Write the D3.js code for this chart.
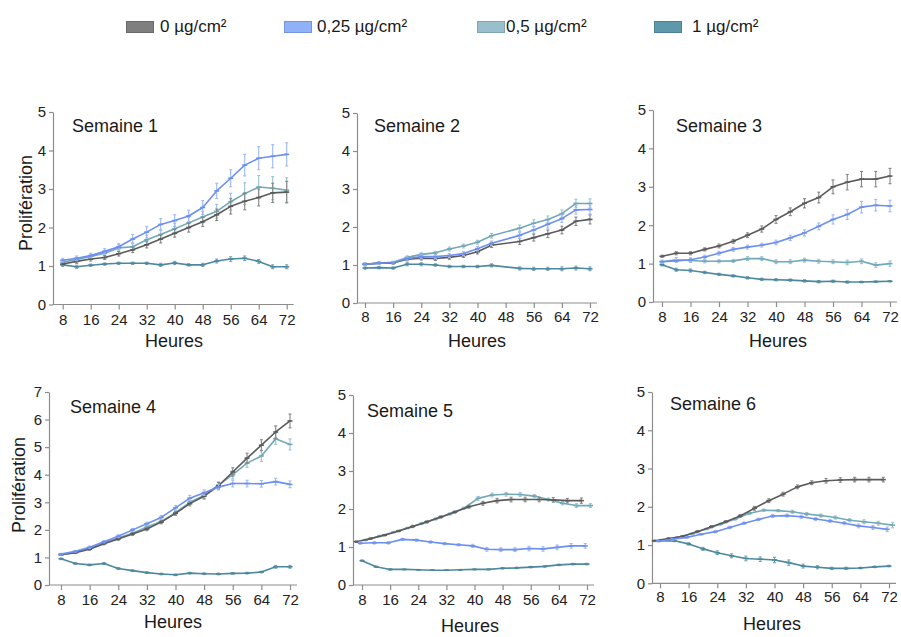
<!DOCTYPE html>
<html>
<head>
<meta charset="utf-8">
<script src="https://cdn.jsdelivr.net/npm/d3@7"></script>
<style>
  html, body { margin: 0; padding: 0; background: #fff; }
  svg { display: block; font-family: "Liberation Sans", Arial, Helvetica, sans-serif; }
</style>
</head>
<body>
<svg id="chart" width="901" height="637"></svg>
<script>
// ---------- DATA ----------
const seriesNames = ["0 µg/cm²", "0,25 µg/cm²", "0,5 µg/cm²", "1 µg/cm²"];
const weekTitles = ["Semaine 1", "Semaine 2", "Semaine 3", "Semaine 4", "Semaine 5", "Semaine 6"];
const xTicks = [8, 16, 24, 32, 40, 48, 56, 64, 72];
const yMaxes = [5, 5, 5, 7, 5, 5];

const hoursStd = [8, 12, 16, 20, 24, 28, 32, 36, 40, 44, 48, 52, 56, 60, 64, 68, 72];
const hoursW2 = [8, 12, 16, 20, 24, 28, 32, 36, 40, 44, 52, 56, 60, 64, 68, 72];
const hoursEarly = [6.4, 10.4, 14.4, 18.4, 22.4, 26.4, 30.4, 34.4, 38.4, 42.4, 46.4, 50.4, 54.4, 58.4, 62.4, 66.4, 70.4];
const hoursHalf = [7.5, 11.5, 15.5, 19.5, 23.5, 27.5, 31.5, 35.5, 39.5, 43.5, 47.5, 51.5, 55.5, 59.5, 63.5, 67.5, 71.5];
const hoursLate = [9, 13, 17, 21, 25, 29, 33, 37, 41, 45, 49, 53, 57, 61, 65, 69, 73];

// Week 1
const w1_0   = [1.05,1.12,1.18,1.22,1.32,1.42,1.55,1.70,1.85,2.00,2.15,2.33,2.55,2.68,2.78,2.90,2.92];
const w1_025 = [1.15,1.20,1.27,1.38,1.50,1.70,1.88,2.08,2.18,2.30,2.52,2.95,3.28,3.62,3.80,3.85,3.90];
const w1_05  = [1.10,1.17,1.25,1.33,1.47,1.50,1.68,1.82,1.97,2.12,2.27,2.42,2.67,2.88,3.05,3.02,2.97];
const w1_1   = [1.03,0.98,1.02,1.05,1.07,1.07,1.07,1.03,1.08,1.03,1.03,1.13,1.18,1.20,1.12,0.98,0.98];
const e1_0   = [0.04,0.05,0.05,0.05,0.06,0.07,0.08,0.10,0.10,0.12,0.12,0.15,0.20,0.22,0.22,0.25,0.28];
const e1_025 = [0.05,0.06,0.06,0.07,0.08,0.12,0.15,0.15,0.15,0.15,0.18,0.20,0.22,0.28,0.30,0.30,0.30];
const e1_05  = [0.04,0.05,0.05,0.06,0.08,0.10,0.12,0.12,0.14,0.14,0.15,0.18,0.22,0.28,0.30,0.30,0.32];
const e1_1   = [0.04,0.04,0.03,0.03,0.03,0.03,0.03,0.04,0.04,0.03,0.04,0.05,0.06,0.06,0.05,0.05,0.05];

// Week 2
const w2_0   = [1.02,1.05,1.05,1.15,1.18,1.17,1.20,1.25,1.35,1.52,1.62,1.72,1.82,1.92,2.15,2.20];
const w2_025 = [1.02,1.05,1.06,1.17,1.22,1.22,1.25,1.30,1.43,1.57,1.78,1.92,2.07,2.22,2.45,2.46];
const w2_05  = [1.02,1.05,1.07,1.20,1.28,1.32,1.42,1.50,1.60,1.77,1.97,2.10,2.20,2.35,2.62,2.62];
const w2_1   = [0.92,0.93,0.92,1.02,1.02,1.00,0.96,0.96,0.96,0.99,0.91,0.90,0.90,0.90,0.92,0.90];
const e2_0   = [0.03,0.03,0.03,0.04,0.05,0.05,0.05,0.05,0.06,0.06,0.08,0.09,0.10,0.10,0.11,0.12];
const e2_025 = [0.03,0.03,0.03,0.04,0.05,0.05,0.05,0.05,0.06,0.06,0.08,0.09,0.10,0.10,0.11,0.12];
const e2_05  = [0.03,0.03,0.03,0.04,0.04,0.04,0.05,0.05,0.05,0.06,0.08,0.09,0.09,0.10,0.11,0.12];
const e2_1   = [0.03,0.03,0.03,0.04,0.04,0.03,0.03,0.03,0.03,0.04,0.04,0.04,0.04,0.05,0.05,0.05];

// Week 3
const w3_0   = [1.19,1.27,1.27,1.37,1.46,1.58,1.74,1.90,2.15,2.35,2.57,2.72,3.00,3.12,3.20,3.20,3.28];
const w3_025 = [1.05,1.07,1.10,1.17,1.27,1.37,1.43,1.48,1.55,1.67,1.80,1.97,2.15,2.28,2.47,2.52,2.50];
const w3_05  = [1.05,1.10,1.08,1.06,1.06,1.07,1.13,1.13,1.05,1.05,1.09,1.06,1.05,1.03,1.06,0.96,1.00];
const w3_1   = [0.97,0.84,0.82,0.77,0.72,0.68,0.63,0.59,0.58,0.57,0.55,0.53,0.54,0.52,0.52,0.53,0.54];
const e3_0   = [0.03,0.04,0.04,0.04,0.05,0.05,0.06,0.08,0.10,0.10,0.12,0.14,0.18,0.20,0.20,0.20,0.20];
const e3_025 = [0.03,0.04,0.05,0.05,0.05,0.05,0.05,0.05,0.06,0.07,0.08,0.09,0.12,0.13,0.15,0.15,0.15];
const e3_05  = [0.04,0.06,0.05,0.04,0.04,0.04,0.05,0.05,0.05,0.05,0.05,0.05,0.05,0.06,0.06,0.06,0.07];
const e3_1   = [0.03,0.04,0.04,0.03,0.03,0.03,0.03,0.03,0.03,0.03,0.03,0.03,0.03,0.03,0.02,0.02,0.02];

// Week 4
const w4_0   = [1.10,1.17,1.30,1.50,1.67,1.85,2.03,2.28,2.60,2.95,3.22,3.60,4.10,4.60,5.07,5.55,5.95];
const w4_025 = [1.12,1.22,1.37,1.57,1.77,2.00,2.22,2.45,2.80,3.15,3.35,3.55,3.68,3.68,3.67,3.75,3.65];
const w4_05  = [1.10,1.18,1.33,1.52,1.70,1.88,2.10,2.30,2.62,3.00,3.25,3.62,4.00,4.42,4.68,5.30,5.10];
const w4_1   = [0.95,0.78,0.73,0.78,0.60,0.52,0.45,0.40,0.37,0.43,0.41,0.40,0.42,0.43,0.47,0.66,0.66];
const e4_0   = [0.03,0.03,0.04,0.04,0.05,0.05,0.06,0.06,0.07,0.08,0.10,0.12,0.15,0.18,0.20,0.22,0.25];
const e4_025 = [0.03,0.03,0.04,0.04,0.05,0.05,0.06,0.07,0.08,0.10,0.10,0.10,0.12,0.12,0.12,0.12,0.12];
const e4_05  = [0.03,0.03,0.04,0.04,0.05,0.05,0.06,0.06,0.07,0.08,0.10,0.12,0.15,0.15,0.20,0.20,0.20];
const e4_1   = [0.03,0.03,0.03,0.03,0.03,0.03,0.03,0.03,0.03,0.03,0.03,0.03,0.03,0.03,0.03,0.05,0.05];

// Week 5
const w5_0   = [1.14,1.22,1.31,1.42,1.54,1.66,1.79,1.92,2.06,2.15,2.22,2.25,2.25,2.25,2.24,2.22,2.22];
const w5_025 = [1.10,1.11,1.11,1.20,1.18,1.13,1.09,1.06,1.03,0.94,0.93,0.93,0.96,0.95,0.99,1.03,1.03];
const w5_05  = [1.18,1.29,1.39,1.50,1.62,1.74,1.87,2.02,2.28,2.37,2.39,2.38,2.34,2.25,2.15,2.09,2.09];
const w5_1   = [0.64,0.48,0.41,0.41,0.40,0.39,0.39,0.40,0.41,0.41,0.44,0.45,0.47,0.49,0.53,0.55,0.55];
const e5_0   = [0.02,0.02,0.02,0.02,0.03,0.03,0.03,0.03,0.04,0.05,0.06,0.06,0.06,0.06,0.06,0.06,0.07];
const e5_025 = [0.03,0.03,0.03,0.03,0.03,0.03,0.03,0.03,0.04,0.05,0.05,0.05,0.06,0.06,0.06,0.06,0.06];
const e5_05  = [0.02,0.02,0.02,0.02,0.03,0.03,0.03,0.03,0.05,0.05,0.05,0.05,0.04,0.04,0.04,0.05,0.05];
const e5_1   = [0.02,0.02,0.02,0.01,0.01,0.01,0.01,0.01,0.01,0.01,0.02,0.02,0.02,0.02,0.02,0.02,0.02];

// Week 6
const w6_0   = [1.11,1.17,1.23,1.35,1.48,1.61,1.76,1.96,2.16,2.33,2.52,2.63,2.68,2.70,2.71,2.71,2.71];
const w6_025 = [1.10,1.15,1.20,1.28,1.35,1.46,1.57,1.67,1.76,1.77,1.74,1.68,1.63,1.57,1.50,1.46,1.41];
const w6_05  = [1.12,1.20,1.30,1.42,1.55,1.68,1.83,1.91,1.90,1.87,1.81,1.77,1.72,1.65,1.61,1.57,1.52];
const w6_1   = [1.11,1.11,1.03,0.90,0.80,0.72,0.65,0.63,0.61,0.54,0.45,0.42,0.39,0.39,0.40,0.43,0.45];
const e6_0   = [0.02,0.02,0.02,0.03,0.03,0.03,0.04,0.05,0.05,0.05,0.05,0.05,0.06,0.06,0.06,0.06,0.06];
const e6_025 = [0.02,0.02,0.02,0.02,0.03,0.03,0.03,0.03,0.04,0.04,0.04,0.04,0.04,0.04,0.05,0.05,0.06];
const e6_05  = [0.02,0.02,0.02,0.02,0.03,0.03,0.03,0.03,0.03,0.04,0.04,0.04,0.04,0.04,0.05,0.05,0.07];
const e6_1   = [0.02,0.02,0.03,0.04,0.05,0.05,0.06,0.06,0.07,0.07,0.05,0.04,0.03,0.03,0.02,0.02,0.02];

// ---------- STYLE / LAYOUT ----------
const lineColors = ["#5b5b5b", "#6d8ff2", "#72a8b8", "#4d889d"];
const errColors  = ["#858585", "#9db8f4", "#98c2cf", "#6fa1b3"];
const legendFill = ["#7f7f7f", "#8fb1f8", "#99bfcc", "#5d98ab"];
const legendStroke = ["#6a6a6a", "#7495dc", "#7ea5b4", "#4c8297"];

const panelData = [
  { hours: [hoursStd, hoursStd, hoursStd, hoursStd], vals: [w1_0, w1_025, w1_05, w1_1], errs: [e1_0, e1_025, e1_05, e1_1] },
  { hours: [hoursW2, hoursW2, hoursW2, hoursW2], vals: [w2_0, w2_025, w2_05, w2_1], errs: [e2_0, e2_025, e2_05, e2_1] },
  { hours: [hoursStd, hoursStd, hoursStd, hoursStd], vals: [w3_0, w3_025, w3_05, w3_1], errs: [e3_0, e3_025, e3_05, e3_1] },
  { hours: [hoursStd, hoursStd, hoursStd, hoursStd], vals: [w4_0, w4_025, w4_05, w4_1], errs: [e4_0, e4_025, e4_05, e4_1] },
  { hours: [hoursEarly, hoursHalf, hoursLate, hoursStd], vals: [w5_0, w5_025, w5_05, w5_1], errs: [e5_0, e5_025, e5_05, e5_1] },
  { hours: [hoursEarly, hoursHalf, hoursLate, hoursStd], vals: [w6_0, w6_025, w6_05, w6_1], errs: [e6_0, e6_025, e6_05, e6_1] }
];

const layout = [
  { ax: 53,  x8: 62.7,  x72: 286.7, y0: 304.5, yTop: 112, titleX: 72,  titleY: 132, tickY: 325, hx: 174, hy: 347, ylab: { x: 32, y: 203 } },
  { ax: 357, x8: 365,   x72: 590,   y0: 303,   yTop: 113, titleX: 374, titleY: 132, tickY: 322, hx: 477, hy: 347, ylab: null },
  { ax: 653, x8: 662,   x72: 890,   y0: 302,   yTop: 110, titleX: 676, titleY: 132, tickY: 322, hx: 778, hy: 347, ylab: null },
  { ax: 49,  x8: 61,    x72: 290,   y0: 585,   yTop: 392, titleX: 70,  titleY: 413, tickY: 605, hx: 173, hy: 628, ylab: { x: 25, y: 485 } },
  { ax: 353, x8: 362,   x72: 587,   y0: 585,   yTop: 395, titleX: 367, titleY: 417, tickY: 605, hx: 470, hy: 632, ylab: null },
  { ax: 652, x8: 660,   x72: 889,   y0: 583.3, yTop: 392, titleX: 670, titleY: 410, tickY: 602, hx: 772, hy: 630, ylab: null }
];

const svg = d3.select("#chart");
svg.append("rect").attr("width", 901).attr("height", 637).attr("fill", "#fff");

// ---------- LEGEND ----------
const legX = [126, 284, 477, 654];
const legTX = [160, 317, 506, 692];
seriesNames.forEach((name, i) => {
  svg.append("rect").attr("x", legX[i] + 0.5).attr("y", 21.5).attr("width", 27).attr("height", 11)
    .attr("fill", legendFill[i]).attr("stroke", legendStroke[i]).attr("stroke-width", 1);
  svg.append("text").attr("x", legTX[i]).attr("y", 32).attr("font-size", 17).attr("fill", "#1a1a1a").text(name);
});

// ---------- PANELS ----------
const axisColor = "#8c8c8c";
layout.forEach((L, p) => {
  const g = svg.append("g");
  const x = d3.scaleLinear().domain([8, 72]).range([L.x8, L.x72]);
  const y = d3.scaleLinear().domain([0, yMaxes[p]]).range([L.y0, L.yTop]);

  // y axis
  const yAxis = g.append("g").attr("transform", `translate(${L.ax},0)`)
    .call(d3.axisLeft(y).ticks(yMaxes[p]).tickSize(4).tickSizeOuter(0).tickPadding(3));
  yAxis.select(".domain").attr("stroke", axisColor).attr("stroke-width", 1.2);
  yAxis.selectAll(".tick line").attr("stroke", axisColor).attr("stroke-width", 1.2);
  yAxis.selectAll(".tick text").attr("font-size", 15).attr("fill", "#222").attr("font-family", null);

  // x axis
  const xAxis = g.append("g").attr("transform", `translate(0,${L.y0})`)
    .call(d3.axisBottom(x).tickValues(xTicks).tickSize(5).tickPadding(4));
  xAxis.select(".domain").remove();
  xAxis.selectAll(".tick line").attr("stroke", axisColor).attr("stroke-width", 1.2);
  xAxis.selectAll(".tick text").attr("font-size", 15).attr("fill", "#222").attr("font-family", null)
    .attr("dy", null).attr("y", L.tickY - L.y0);
  g.append("line").attr("x1", L.ax).attr("x2", x(72) + 7).attr("y1", L.y0).attr("y2", L.y0)
    .attr("stroke", axisColor).attr("stroke-width", 1.2);

  // labels
  g.append("text").attr("x", L.titleX).attr("y", L.titleY).attr("font-size", 18).attr("fill", "#1a1a1a").text(weekTitles[p]);
  g.append("text").attr("x", L.hx).attr("y", L.hy).attr("text-anchor", "middle").attr("font-size", 18).attr("fill", "#1a1a1a").text("Heures");
  if (L.ylab) {
    g.append("text").attr("transform", `translate(${L.ylab.x},${L.ylab.y}) rotate(-90)`)
      .attr("text-anchor", "middle").attr("font-size", 18).attr("fill", "#1a1a1a").text("Prolifération");
  }

  // series
  const D = panelData[p];
  const order = [3, 2, 0, 1];
  order.forEach(s => {
    const pts = D.hours[s].map((h, i) => ({ h, v: D.vals[s][i], e: D.errs[s][i] }));
    const line = d3.line().x(d => x(d.h)).y(d => y(d.v));
    // error bars
    const eg = g.append("g").attr("stroke", errColors[s]).attr("stroke-width", 1.1);
    pts.forEach(d => {
      eg.append("line").attr("x1", x(d.h)).attr("x2", x(d.h)).attr("y1", y(d.v - d.e)).attr("y2", y(d.v + d.e));
      eg.append("line").attr("x1", x(d.h) - 1.5).attr("x2", x(d.h) + 1.5).attr("y1", y(d.v + d.e)).attr("y2", y(d.v + d.e));
      eg.append("line").attr("x1", x(d.h) - 1.5).attr("x2", x(d.h) + 1.5).attr("y1", y(d.v - d.e)).attr("y2", y(d.v - d.e));
    });
    g.append("path").datum(pts).attr("d", line).attr("fill", "none")
      .attr("stroke", lineColors[s]).attr("stroke-width", 1.6).attr("stroke-linejoin", "round");
    // point markers
    g.append("g").selectAll("line").data(pts).join("line")
      .attr("x1", d => x(d.h) - 2.5).attr("x2", d => x(d.h) + 2.5)
      .attr("y1", d => y(d.v)).attr("y2", d => y(d.v))
      .attr("stroke", lineColors[s]).attr("stroke-width", 1.6);
  });
});
</script>
</body>
</html>
